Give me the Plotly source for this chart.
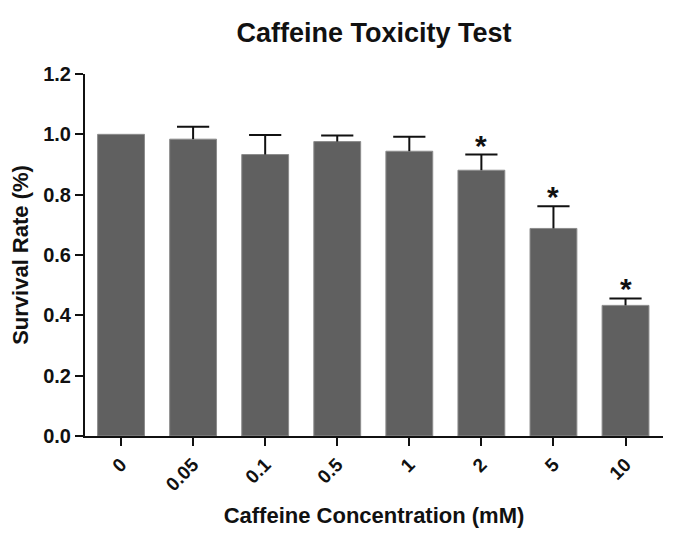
import plotly.graph_objects as go

concentrations = ["0", "0.05", "0.1", "0.5", "1", "2", "5", "10"]
survival = [1.000, 0.984, 0.933, 0.976, 0.944, 0.881, 0.688, 0.433]
error_upper = [None, 0.041, 0.065, 0.020, 0.048, 0.052, 0.074, 0.023]
significant = [False, False, False, False, False, True, True, True]
y_ticks = [0.0, 0.2, 0.4, 0.6, 0.8, 1.0, 1.2]

FONT = "Liberation Sans, Arial, sans-serif"
INK = "#111111"

# page body adds an 8px margin; the figure is sized so the page is 680x543
W, H = 664, 527

fig = go.Figure()
fig.add_trace(go.Bar(
    x=concentrations,
    y=survival,
    width=0.65,
    marker=dict(color="#606060", line=dict(color="#8c8c8c", width=1)),
    error_y=dict(type="data", symmetric=False, array=error_upper,
                 arrayminus=[0] * len(survival), color=INK,
                 thickness=2, width=0),
    showlegend=False,
))

# error-bar caps (upper only)
cap_y = [None if e is None else v + e for v, e in zip(survival, error_upper)]
fig.add_trace(go.Scatter(
    x=concentrations, y=cap_y, mode="markers",
    marker=dict(symbol="line-ew", size=23, line=dict(color=INK, width=2)),
    showlegend=False, hoverinfo="skip",
))

for i, (v, e, s) in enumerate(zip(survival, error_upper, significant)):
    if s:
        fig.add_annotation(x=i, y=v + e, xref="x", yref="y", text="*", showarrow=False,
                           yanchor="bottom", yshift=-9,
                           font=dict(family=FONT, size=30, color=INK, weight="bold"))

fig.update_layout(
    width=W, height=H,
    margin=dict(l=77, r=9, t=66, b=99, autoexpand=False),
    paper_bgcolor="white", plot_bgcolor="white",
    title=dict(text="Caffeine Toxicity Test", x=0.5, xref="paper", xanchor="center",
               y=1 - 25 / H, yref="container", yanchor="middle",
               font=dict(family=FONT, size=27, color=INK, weight="bold")),
    font=dict(family=FONT, color=INK),
)
fig.update_xaxes(
    type="category", range=[-0.5, 7.52], automargin=False,
    showline=True, linecolor=INK, linewidth=2,
    ticks="outside", ticklen=8, tickwidth=2, tickcolor=INK,
    tickangle=-45, showgrid=False, zeroline=False,
    tickfont=dict(family=FONT, size=19, color=INK, weight="bold"),
    title=dict(text="Caffeine Concentration (mM)", standoff=14,
               font=dict(family=FONT, size=22, color=INK, weight="bold")),
)
fig.update_yaxes(
    range=[0, 1.2], tickvals=y_ticks, tickformat=".1f", automargin=False,
    showline=True, linecolor=INK, linewidth=2,
    ticks="outside", ticklen=8, tickwidth=2, tickcolor=INK,
    showgrid=False, zeroline=False,
    tickfont=dict(family=FONT, size=20, color=INK, weight="bold"),
    title=dict(text="Survival Rate (%)", standoff=8,
               font=dict(family=FONT, size=22, color=INK, weight="bold")),
)

fig.write_html("out.html")
